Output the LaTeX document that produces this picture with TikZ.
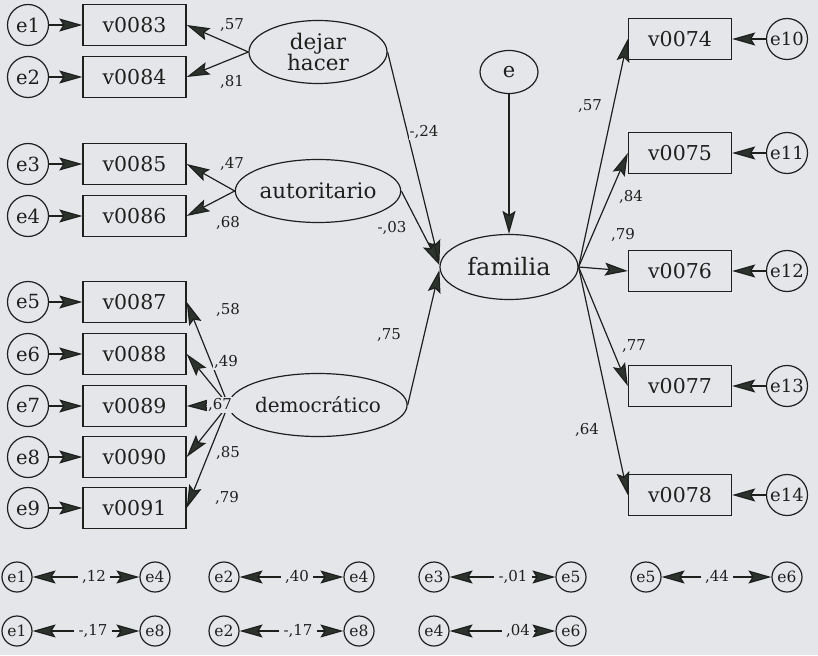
\documentclass[tikz,border=0pt]{standalone}
\usepackage{fontspec}
\setmainfont{DejaVu Serif}
\usetikzlibrary{shapes.geometric,arrows.meta,calc}
\definecolor{bg}{RGB}{228,230,234}
\definecolor{ink}{RGB}{30,32,30}
\definecolor{tipc}{RGB}{44,50,44}
\begin{document}
\begin{tikzpicture}[x=1pt,y=-1pt,
  every node/.style={text=ink},
  obs/.style={draw=ink,line width=1.4pt,minimum width=103pt,minimum height=41pt,inner sep=0pt,font=\fontsize{20.5}{24}\selectfont},
  err/.style={draw=ink,line width=1.2pt,circle,minimum size=41pt,inner sep=0pt,font=\fontsize{19.5}{22}\selectfont},
  errs/.style={draw=ink,line width=1.2pt,circle,minimum size=30pt,inner sep=0pt,font=\fontsize{15.5}{18}\selectfont},
  lat/.style={draw=ink,line width=1.2pt,ellipse,minimum width=138pt,minimum height=63pt,inner sep=0pt,font=\fontsize{21.5}{24}\selectfont,align=center},
  lbl/.style={font=\fontsize{15}{18}\selectfont,fill=bg,inner sep=1pt},
  lbls/.style={font=\fontsize{15}{18}\selectfont,fill=bg,inner sep=4pt},
  arr/.style={draw=ink,line width=1.2pt,-{Stealth[length=23pt,width=13pt,inset=4pt,fill=tipc]}}
]
\fill[bg] (0,0) rectangle (818,655);
\useasboundingbox (0,0) rectangle (818,655);

% left error circles and boxes
\foreach \i/\v/\y in {1/0083/25,2/0084/77,3/0085/164,4/0086/216,5/0087/302,6/0088/354,7/0089/406,8/0090/457,9/0091/508}{
  \node[err] (e\i) at (28,\y) {e\i};
  \node[obs] (v\v) at (134.5,\y) {v\v};
  \draw[arr] (e\i) -- (v\v);
}

% latent factors
\node[lat] (dh) at (318,52) {dejar\\[-3pt]hacer};
\node[lat] (au) at (318,191) {autoritario};
\node[lat] (de) at (318,405) {\fontsize{20}{24}\selectfont democrático};
\node[lat,minimum width=138pt,minimum height=65pt,font=\fontsize{24}{26}\selectfont] (fa) at (509,267) {familia};
\node[draw=ink,line width=1.2pt,ellipse,minimum width=58pt,minimum height=43pt,inner sep=0pt,font=\fontsize{21}{24}\selectfont] (e) at (509,72) {e};

% loadings of left factors
\draw[arr] (dh.west) -- (v0083.east);
\draw[arr] (dh.west) -- (v0084.east);
\draw[arr] (au.west) -- (v0085.east);
\draw[arr] (au.west) -- (v0086.east);
\draw[arr] (de.west) -- (v0087.east);
\draw[arr] (de.west) -- (v0088.east);
\draw[arr] (de.west) -- (v0089.east);
\draw[arr] (de.west) -- (v0090.east);
\draw[arr] (de.west) -- (v0091.east);

\node[lbl] at (232,25) {,57};
\node[lbl] at (232,82) {,81};
\node[lbl] at (232,164) {,47};
\node[lbl] at (228,223) {,68};
\node[lbl] at (228,310) {,58};
\node[lbl] at (226,362) {,49};
\node[lbl] at (220,405) {,67};
\node[lbl] at (228,453) {,85};
\node[lbl] at (227,498) {,79};

% structural paths
\draw[arr] (dh.east) -- ($(fa.west)+(0,-4)$);
\draw[arr] (au.east) -- ($(fa.west)+(0,-2)$);
\draw[arr] (de.east) -- ($(fa.west)+(0,3)$);
\draw[arr] (e.south) -- (fa.north);
\node[lbl] at (424,132) {-,24};
\node[lbl] at (392,228) {-,03};
\node[lbl] at (389,335) {,75};

% right side
\foreach \j/\v/\y in {10/0074/39,11/0075/153,12/0076/271,13/0077/386,14/0078/495}{
  \node[obs] (v\v) at (680,\y) {v\v};
  \node[err,font=\fontsize{18}{20}\selectfont] (e\j) at (787,\y) {e\j};
  \draw[arr] (e\j) -- (v\v);
  \draw[arr] (fa.east) -- (v\v.west);
}
\node[lbl] at (590,106) {,57};
\node[lbl] at (631,197) {,84};
\node[lbl] at (623,235) {,79};
\node[lbl] at (634,346) {,77};
\node[lbl] at (587,430) {,64};

% correlations between errors
\foreach \k/\a/\b/\xa/\xb/\xl/\y/\t in {
  1/e1/e4/17/155/94/577/{,12},
  2/e2/e4/224/359/297/577/{,40},
  3/e3/e5/434/571/513/577/{-,01},
  4/e5/e6/646/787/717/577/{,44},
  5/e1/e8/17/155/93/631/{-,17},
  6/e2/e8/224/359/298/631/{-,17},
  7/e4/e6/434/571/518/631/{,04}}{
  \node[errs] (ca\k) at (\xa,\y) {\a};
  \node[errs] (cb\k) at (\xb,\y) {\b};
  \node[lbls] (cl\k) at (\xl,\y) {\t};
  \draw[arr] (cl\k.west) -- (ca\k);
  \draw[arr] (cl\k.east) -- (cb\k);
}
\end{tikzpicture}
\end{document}
